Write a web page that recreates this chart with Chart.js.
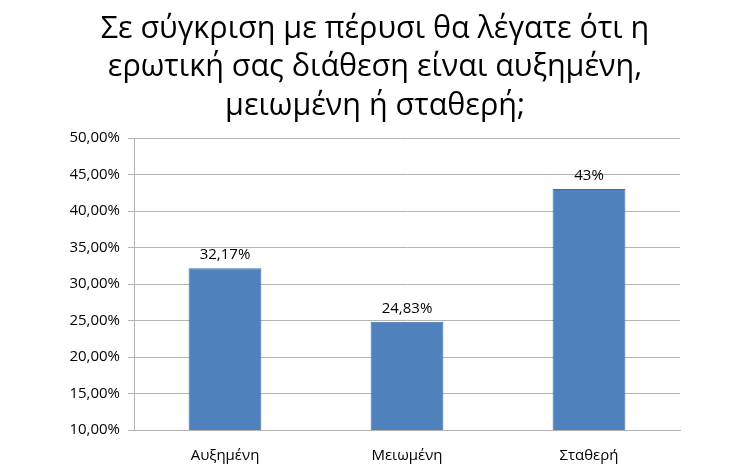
<!DOCTYPE html>
<html>
<head>
<meta charset="utf-8">
<script src="https://cdn.jsdelivr.net/npm/chart.js@4"></script>
<style>
  html, body { margin: 0; padding: 0; background: #fff; }
  #wrap { width: 750px; height: 467px; }
</style>
</head>
<body>
<div id="wrap"><canvas id="answerChart"></canvas></div>
<script>
const categories = ['Αυξημένη', 'Μειωμένη', 'Σταθερή'];
const values = [32.17, 24.83, 43];
const valueLabels = ['32,17%', '24,83%', '43%'];
const titleLines = [
    'Σε σύγκριση με πέρυσι θα λέγατε ότι η',
    'ερωτική σας διάθεση είναι αυξημένη,',
    'μειωμένη ή σταθερή;'
];
const yMin = 10, yMax = 50, yStep = 5;

// title centred on the whole canvas, like the original
const pageTitle = {
    id: 'pageTitle',
    afterDraw(chart) {
        const ctx = chart.ctx;
        ctx.save();
        ctx.font = '30.5px "Open Sans", sans-serif';
        ctx.fillStyle = '#000';
        ctx.textAlign = 'center';
        ctx.textBaseline = 'middle';
        titleLines.forEach(function(line, i) {
            ctx.fillText(line, chart.width / 2, 29 + i * 38.5);
        });
        ctx.restore();
    }
};

// labels above each bar
const barLabels = {
    id: 'barLabels',
    afterDatasetsDraw(chart) {
        const ctx = chart.ctx;
        const meta = chart.getDatasetMeta(0);
        ctx.save();
        ctx.font = '15px "Open Sans", sans-serif';
        ctx.fillStyle = '#000';
        ctx.textAlign = 'center';
        ctx.textBaseline = 'middle';
        meta.data.forEach(function(bar, i) {
            ctx.fillText(valueLabels[i], bar.x, bar.y - 13);
        });
        ctx.restore();
    }
};

document.addEventListener('DOMContentLoaded', function() {
    const ctx = document.getElementById('answerChart').getContext('2d');
    new Chart(ctx, {
        type: 'bar',
        data: {
            labels: categories,
            datasets: [{
                data: values,
                backgroundColor: '#4f81bd',
                borderColor: '#3c6ca8',
                borderWidth: 1,
                barPercentage: 0.8,
                categoryPercentage: 0.5
            }]
        },
        options: {
            responsive: true,
            maintainAspectRatio: false,
            animation: false,
            layout: { padding: { left: 0, right: 70, top: 138, bottom: 0 } },
            plugins: {
                legend: { display: false },
                tooltip: { enabled: false },
                title: { display: false }
            },
            scales: {
                x: {
                    afterFit: function(scale) { scale.height = 37; },
                    grid: { display: false },
                    border: { display: true, color: '#b3b3b3' },
                    ticks: { color: '#000', font: { family: '"Open Sans", sans-serif', size: 15 }, padding: 9 }
                },
                y: {
                    min: yMin,
                    max: yMax,
                    afterFit: function(scale) { scale.width = 134; },
                    ticks: {
                        stepSize: yStep,
                        color: '#000',
                        font: { family: '"Open Sans", sans-serif', size: 15 },
                        padding: 8,
                        callback: function(v) { return v.toFixed(2).replace('.', ',') + '%'; }
                    },
                    grid: { color: '#b3b3b3', tickLength: 6 },
                    border: { color: '#b3b3b3' }
                }
            }
        },
        plugins: [barLabels, pageTitle]
    });
});
</script>
</body>
</html>
